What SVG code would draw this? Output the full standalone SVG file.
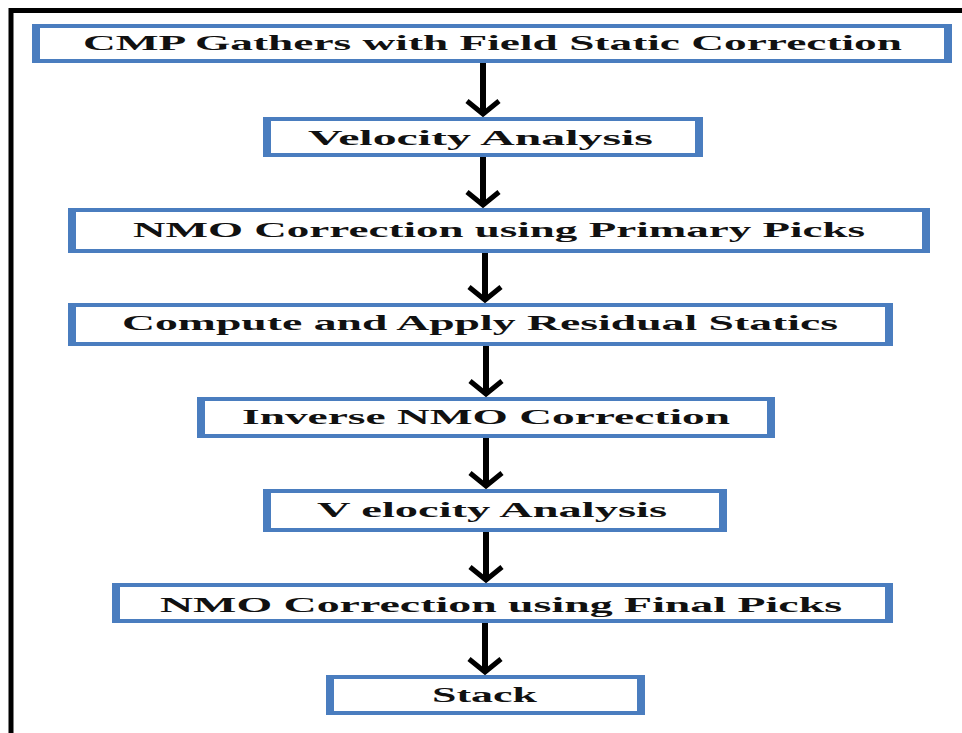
<svg xmlns="http://www.w3.org/2000/svg" width="962" height="733" viewBox="0 0 962 733">
  <style>
    .outer { fill: #4a7dbf; }
    .inner { fill: #ffffff; }
    .lbl { font-family: "Liberation Serif", "Times New Roman", serif; font-weight: bold; font-size: 21px; fill: #111111; }
    .conn { stroke: #000000; stroke-width: 6; fill: none; }
    .frame { stroke: #000000; stroke-width: 5; fill: none; }
  </style>
  <defs>
    <marker id="arrow" markerUnits="userSpaceOnUse" viewBox="-20 -20 24 40" markerWidth="24" markerHeight="40" refX="0" refY="0" orient="auto" overflow="visible">
      <path d="M-14,-16 L-1,0 L-14,16" fill="none" stroke="#000000" stroke-width="5" stroke-linejoin="miter"/>
    </marker>
  </defs>
  <rect width="962" height="733" fill="#ffffff"/>
  <path class="frame" d="M11,733 L11,10.5 L962,10.5"/>

  <g id="connectors">
    <line class="conn" x1="483" y1="63" x2="483" y2="115" marker-end="url(#arrow)"/>
    <line class="conn" x1="483" y1="157" x2="483" y2="206" marker-end="url(#arrow)"/>
    <line class="conn" x1="485" y1="253" x2="485" y2="301" marker-end="url(#arrow)"/>
    <line class="conn" x1="486" y1="346" x2="486" y2="395" marker-end="url(#arrow)"/>
    <line class="conn" x1="486" y1="438" x2="486" y2="487" marker-end="url(#arrow)"/>
    <line class="conn" x1="486" y1="532" x2="486" y2="581" marker-end="url(#arrow)"/>
    <line class="conn" x1="485" y1="623" x2="485" y2="673" marker-end="url(#arrow)"/>
  </g>

  <g id="node1">
    <rect class="outer" x="32" y="24" width="920" height="39"/>
    <rect class="inner" x="40" y="28" width="904" height="31"/>
    <text class="lbl" x="83" y="50" textLength="819" lengthAdjust="spacingAndGlyphs">CMP Gathers with Field Static Correction</text>
  </g>
  <g id="node2">
    <rect class="outer" x="263" y="117" width="440" height="40"/>
    <rect class="inner" x="271" y="121" width="424" height="32"/>
    <text class="lbl" x="308" y="145" textLength="345" lengthAdjust="spacingAndGlyphs">Velocity Analysis</text>
  </g>
  <g id="node3">
    <rect class="outer" x="68" y="208" width="862" height="45"/>
    <rect class="inner" x="76" y="212" width="846" height="37"/>
    <text class="lbl" x="133" y="237" textLength="732" lengthAdjust="spacingAndGlyphs">NMO Correction using Primary Picks</text>
  </g>
  <g id="node4">
    <rect class="outer" x="68" y="303" width="825" height="43"/>
    <rect class="inner" x="76" y="307" width="809" height="35"/>
    <text class="lbl" x="122" y="330" textLength="716" lengthAdjust="spacingAndGlyphs">Compute and Apply Residual Statics</text>
  </g>
  <g id="node5">
    <rect class="outer" x="197" y="397" width="578" height="41"/>
    <rect class="inner" x="205" y="401" width="562" height="33"/>
    <text class="lbl" x="242" y="424" textLength="488" lengthAdjust="spacingAndGlyphs">Inverse NMO Correction</text>
  </g>
  <g id="node6">
    <rect class="outer" x="263" y="489" width="464" height="43"/>
    <rect class="inner" x="271" y="493" width="448" height="35"/>
    <text class="lbl" x="317" y="517" textLength="350" lengthAdjust="spacingAndGlyphs">V elocity Analysis</text>
  </g>
  <g id="node7">
    <rect class="outer" x="112" y="583" width="781" height="40"/>
    <rect class="inner" x="120" y="587" width="765" height="32"/>
    <text class="lbl" x="160" y="612" textLength="682" lengthAdjust="spacingAndGlyphs">NMO Correction using Final Picks</text>
  </g>
  <g id="node8">
    <rect class="outer" x="326" y="675" width="319" height="40"/>
    <rect class="inner" x="334" y="679" width="303" height="32"/>
    <text class="lbl" x="432" y="702" textLength="105" lengthAdjust="spacingAndGlyphs">Stack</text>
  </g>
</svg>
